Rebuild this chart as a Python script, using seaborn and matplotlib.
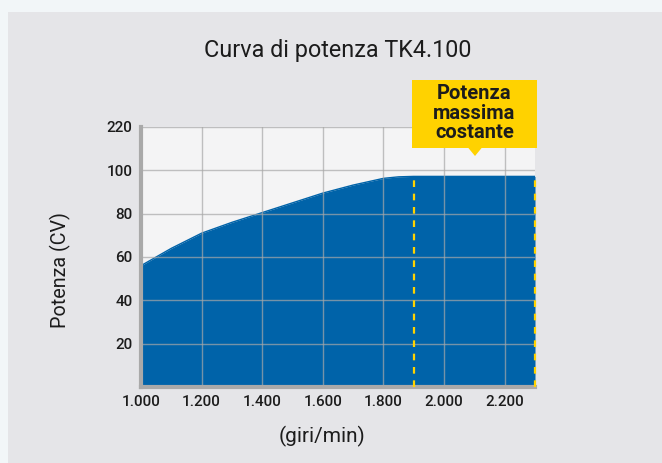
import numpy as np
import pandas as pd
import matplotlib.pyplot as plt
from matplotlib.patches import Rectangle, Polygon
import seaborn as sns

# data
rpm = [1000, 1100, 1200, 1300, 1400, 1500, 1600, 1700, 1800, 1850, 1900, 2000, 2100, 2200, 2300]
power = [56, 64, 71, 76, 80.5, 85, 89.5, 93.2, 96.3, 97.0, 97.2, 97.2, 97.2, 97.2, 97.2]
x_ticks = [1000, 1200, 1400, 1600, 1800, 2000, 2200]
x_labels = ['1.000', '1.200', '1.400', '1.600', '1.800', '2.000', '2.200']
y_ticks = [20, 40, 60, 80, 100, 120]
y_labels = ['20', '40', '60', '80', '100', '220']
const_start = 1900
const_end = 2300

df = pd.DataFrame({'rpm': rpm, 'power': power})

sns.set_style('white')
plt.rcParams['font.family'] = ['Roboto', 'DejaVu Sans']

blue = '#0063a9'
yellow = '#ffd200'
ink = '#1c1c1c'

fig = plt.figure(figsize=(6.62, 4.63), dpi=100)
fig.patch.set_facecolor('#f2f6f8')
# grey panel behind the chart
fig.patches.append(Rectangle((8 / 662, 0), 1, 1 - 12 / 463, transform=fig.transFigure,
                             facecolor='#e5e5e8', edgecolor='none', zorder=-5))

ax = fig.add_axes([141 / 662, 1 - 387 / 463, (535 - 141) / 662, (387 - 127) / 463])
ax.set_facecolor('#f4f4f5')

ax.fill_between(df['rpm'], 0, df['power'], color=blue, zorder=1, linewidth=0)
sns.lineplot(data=df, x='rpm', y='power', color=blue, lw=1, ax=ax, zorder=1)

ax.set_xlim(1000, 2300)
ax.set_ylim(0, 119)
ax.set_xticks(x_ticks)
ax.set_xticklabels(x_labels, fontweight='medium')
ax.set_yticks(y_ticks)
ax.set_yticklabels(y_labels, fontweight='medium')
ax.tick_params(length=0, labelsize=11, colors=ink, pad=6)
ax.grid(True, color='#a8a8a8', alpha=0.7, lw=1)
ax.set_axisbelow(False)
for g in ax.get_xgridlines() + ax.get_ygridlines():
    g.set_zorder(2)

for s in ['top', 'right']:
    ax.spines[s].set_visible(False)
for s in ['left', 'bottom']:
    ax.spines[s].set_color('#a9a9a9')
    ax.spines[s].set_linewidth(3)
    ax.spines[s].set_zorder(3)

# dashed borders of the constant-power zone
for xv in [const_start, const_end]:
    ax.plot([xv, xv], [0, power[-1]], color=yellow, lw=1.6, ls=(0, (3, 3)), zorder=4, clip_on=False)

ax.set_xlabel('(giri/min)', fontsize=15, color=ink)
ax.set_ylabel('Potenza (CV)', fontsize=14.2, color=ink)
ax.xaxis.set_label_coords(0.46, -0.15)
ax.yaxis.set_label_coords(-0.177, 0.45)

fig.text(338 / 662, 1 - 51 / 463, 'Curva di potenza TK4.100', ha='center', va='center',
         fontsize=16.8, color=ink)

# yellow callout box
bx0, bx1, by0, by1 = 412 / 662, 537 / 662, 1 - 148 / 463, 1 - 80 / 463
fig.patches.append(Rectangle((bx0, by0), bx1 - bx0, by1 - by0, transform=fig.transFigure,
                             facecolor=yellow, edgecolor='none', zorder=5))
fig.patches.append(Polygon([(468 / 662, by0 + 0.001), (482 / 662, by0 + 0.001), (475 / 662, 1 - 156 / 463)],
                           closed=True, transform=fig.transFigure, facecolor=yellow,
                           edgecolor='none', zorder=5))
fig.text((bx0 + bx1) / 2, (by0 + by1) / 2 + 0.002, 'Potenza\nmassima\ncostante', ha='center', va='center',
         fontsize=14.5, fontweight='bold', color=ink, linespacing=1.05, zorder=6)

fig.savefig('out.png', dpi=100, facecolor=fig.get_facecolor())
